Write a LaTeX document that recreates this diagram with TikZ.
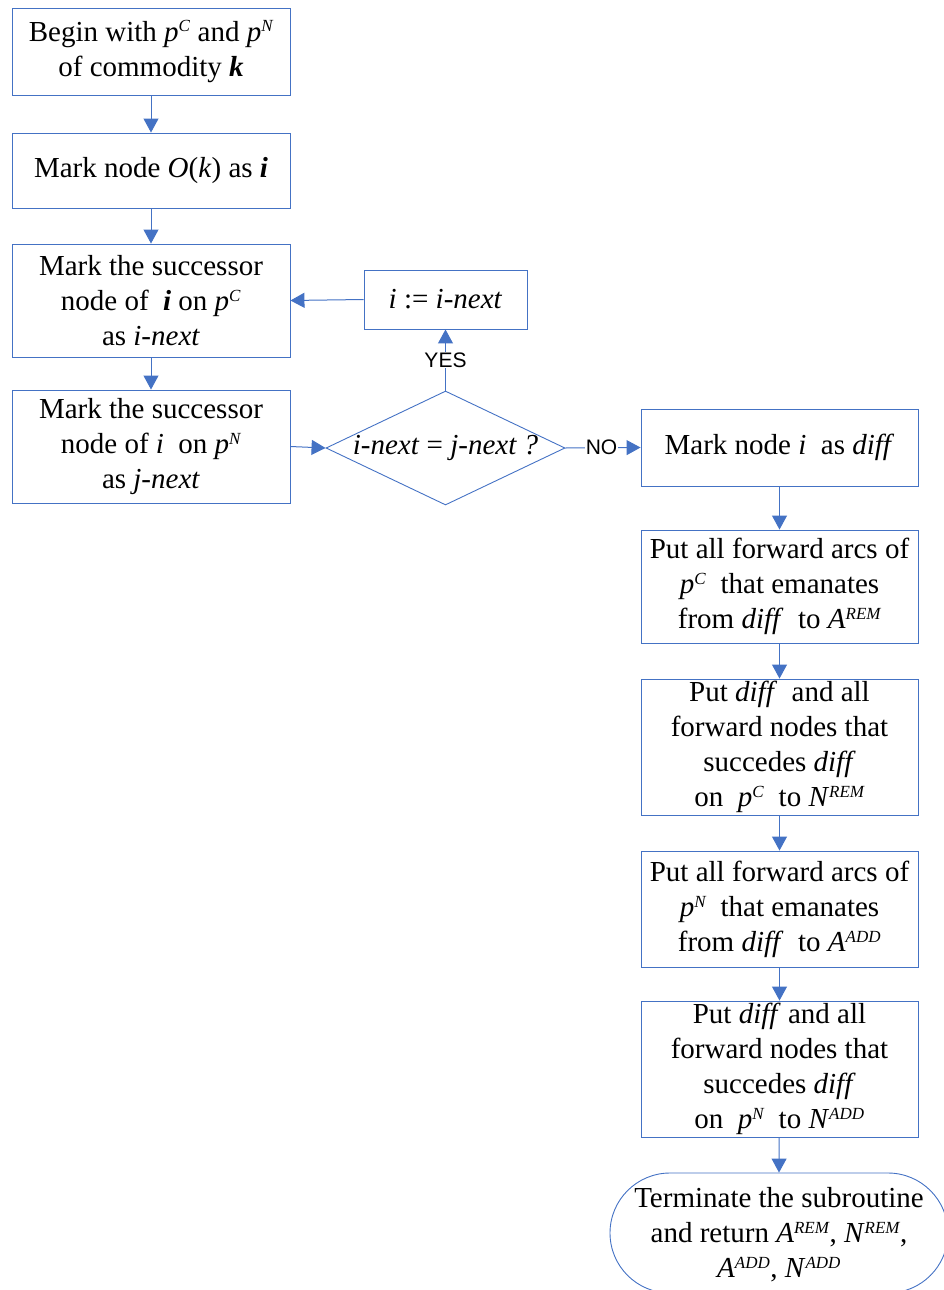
\documentclass[tikz,border=0pt]{standalone}
\usepackage{fontspec}
\setmainfont{Liberation Serif}
\newfontfamily\labelfont{Liberation Sans}
\usetikzlibrary{arrows.meta,shapes.geometric}
\definecolor{flowblue}{RGB}{68,114,196}
\newcommand\up[1]{\textsuperscript{\itshape\fontsize{17}{17}\selectfont #1}}
\newcommand\vi[1]{\textit{#1}}
\newcommand\vb[1]{\textbf{\textit{#1}}}
\begin{document}
\begin{tikzpicture}[x=1pt,y=-1pt,
  txt/.style={font=\fontsize{29}{35}\selectfont, align=center},
  box/.style={txt, draw=flowblue, line width=0.9pt, rectangle, inner sep=0pt},
  decision/.style={txt, draw=flowblue, line width=0.9pt, diamond, aspect=2.1, inner sep=0pt,
    minimum width=239pt, minimum height=114pt},
  term/.style={draw=flowblue, line width=0.9pt, rectangle, rounded corners=60pt, inner sep=0pt,
    minimum width=338pt, minimum height=120pt},
  flow/.style={draw=flowblue, line width=1pt, -{Triangle[length=14pt,width=15pt]}},
  answer/.style={font=\labelfont\fontsize{21}{22}\selectfont, fill=white, inner sep=1pt}
]
\useasboundingbox (0,0) rectangle (944,1290);

% left column
\node[box, minimum width=278pt, minimum height=87pt] (begin) at (151,51.5)
  {Begin with \vi{p}\up{C} and \vi{p}\up{N}\\ of commodity \vb{k}};
\node[box, minimum width=278pt, minimum height=75pt] (origin) at (151,170.5)
  {Mark node \vi{O}(\vi{k}) as \vb{i}};
\node[box, minimum width=278pt, minimum height=113pt] (succC) at (151,300.5)
  {Mark the successor\\ node of \ \vb{i} on \vi{p}\up{C}\\ as \vi{i-next}};
\node[box, minimum width=278pt, minimum height=113pt] (succN) at (151,446.5)
  {Mark the successor\\ node of \vi{i} \ on \vi{p}\up{N}\\ as \vi{j-next}};

% loop update and test
\node[box, minimum width=163pt, minimum height=59pt] (update) at (445.5,299.5)
  {\vi{i} := \vi{i-next}};
\node[decision] (test) at (445.5,448) {\vi{i-next} = \vi{j-next ?}};

% right column
\node[box, minimum width=277pt, minimum height=77pt] (diff) at (779.5,447.5)
  {Mark node \vi{i} \ as \vi{diff}};
\node[box, minimum width=277pt, minimum height=113pt] (arem) at (779.5,586.5)
  {Put all forward arcs of\\ \vi{p}\up{C} \ that emanates\\ from \vi{diff} \ to \vi{A}\up{REM}};
\node[box, minimum width=277pt, minimum height=136pt] (nrem) at (779.5,747)
  {Put \vi{diff} \ and all\\ forward nodes that\\ succedes \vi{diff}\\ on \ \vi{p}\up{C} \ to \vi{N}\up{REM}};
\node[box, minimum width=277pt, minimum height=116pt] (aadd) at (779.5,909)
  {Put all forward arcs of\\ \vi{p}\up{N} \ that emanates\\ from \vi{diff} \ to \vi{A}\up{ADD}};
\node[box, minimum width=277pt, minimum height=136pt] (nadd) at (779.5,1069)
  {Put \vi{diff} and all\\ forward nodes that\\ succedes \vi{diff}\\ on \ \vi{p}\up{N} \ to \vi{N}\up{ADD}};
\node[term] (stop) at (779,1233) {};
\node[txt] (stoptext) at (779,1235)
  {Terminate the subroutine\\ and return \vi{A}\up{REM}, \vi{N}\up{REM},\\ \vi{A}\up{ADD}, \vi{N}\up{ADD}};

% connectors
\draw[flow] (begin) -- (origin);
\draw[flow] (origin) -- (succC);
\draw[flow] (succC) -- (succN);
\draw[flow] (succN.east) -- (test.west);
\draw[flow] (update.west) -- (succC.east);
\draw[flow] (test.north) -- node[answer, pos=0.5] (yes) {YES} (update.south);
\draw[flow] (test.east) -- node[answer, pos=0.48] (no) {NO} (diff.west);
\draw[flow] (diff) -- (arem);
\draw[flow] (arem) -- (nrem);
\draw[flow] (nrem) -- (aadd);
\draw[flow] (aadd) -- (nadd);
\draw[flow] (nadd) -- (stop.north);
\end{tikzpicture}
\end{document}
